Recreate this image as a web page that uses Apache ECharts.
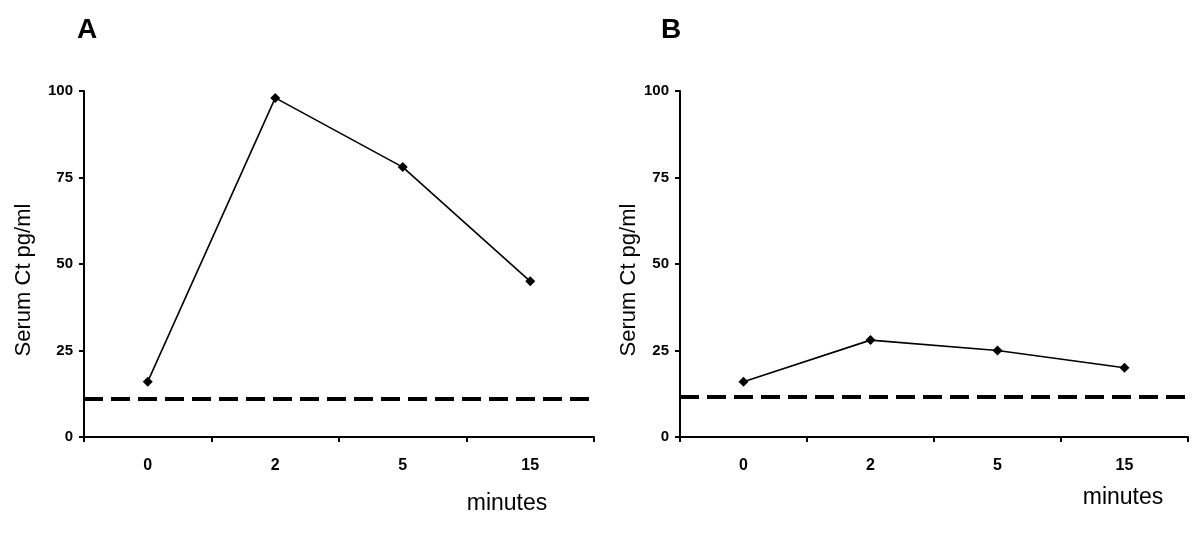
<!DOCTYPE html>
<html>
<head>
<meta charset="utf-8">
<script src="https://cdn.jsdelivr.net/npm/echarts@6/dist/echarts.min.js"></script>
<style>html,body{margin:0;padding:0;background:#fff}#c{width:1200px;height:534px}</style>
</head>
<body>
<div id="c"></div>
<script>
const categories = ['0', '2', '5', '15'];
const seriesA = [16, 98, 78, 45];
const seriesB = [16, 28, 25, 20];
const thresholdA = 11;
const thresholdB = 11.5;
const yTicks = [0, 25, 50, 75, 100];
const panelTitles = ['A', 'B'];
const yName = 'Serum Ct pg/ml';
const xName = 'minutes';

const font = 'Liberation Sans, Arial, sans-serif';
const chart = echarts.init(document.getElementById('c'));

function xAxis(idx, pad, gap) {
  return {
    type: 'category', gridIndex: idx, data: categories, boundaryGap: true,
    axisLine: { lineStyle: { color: '#000', width: 2 } },
    axisTick: { show: true, length: 5, lineStyle: { color: '#000', width: 2 } },
    axisLabel: { color: '#000', fontFamily: font, fontWeight: 'bold', fontSize: 16, margin: 21 },
    name: xName, nameLocation: 'middle', nameGap: gap,
    nameTextStyle: { color: '#000', fontFamily: font, fontSize: 23, padding: [0, 0, 0, pad] }
  };
}
function yAxis(idx, gap) {
  return {
    type: 'value', gridIndex: idx, min: yTicks[0], max: yTicks[yTicks.length - 1], interval: 25,
    axisLine: { show: true, lineStyle: { color: '#000', width: 2 } },
    axisTick: { show: true, length: 5, lineStyle: { color: '#000', width: 2 } },
    splitLine: { show: false },
    axisLabel: { color: '#000', fontFamily: font, fontWeight: 'bold', fontSize: 15, margin: 11 },
    name: yName, nameLocation: 'middle', nameRotate: 90, nameGap: gap,
    nameTextStyle: { color: '#000', fontFamily: font, fontSize: 22, padding: [0, 32, 0, 0] }
  };
}
function lineSeries(idx, data, thr) {
  return {
    type: 'line', xAxisIndex: idx, yAxisIndex: idx, data: data,
    symbol: 'diamond', symbolSize: 10,
    lineStyle: { color: '#000', width: 1.6 },
    itemStyle: { color: '#000' },
    markLine: {
      silent: true, symbol: 'none', label: { show: false },
      lineStyle: { color: '#000', width: 4, type: [19, 8] },
      data: [{ yAxis: thr }]
    },
    z: 3
  };
}

chart.setOption({
  animation: false,
  backgroundColor: '#fff',
  title: [
    { text: panelTitles[0], left: 72, top: 11, textStyle: { fontFamily: font, fontWeight: 'bold', fontSize: 28, color: '#000' } },
    { text: panelTitles[1], left: 656, top: 11, textStyle: { fontFamily: font, fontWeight: 'bold', fontSize: 28, color: '#000' } }
  ],
  grid: [
    { left: 84, right: 606, top: 91, bottom: 97 },
    { left: 680, right: 12, top: 91, bottom: 97 }
  ],
  xAxis: [xAxis(0, 336, 55), xAxis(1, 378, 49)],
  yAxis: [yAxis(0, 49), yAxis(1, 40)],
  series: [lineSeries(0, seriesA, thresholdA), lineSeries(1, seriesB, thresholdB)]
});
</script>
</body>
</html>
